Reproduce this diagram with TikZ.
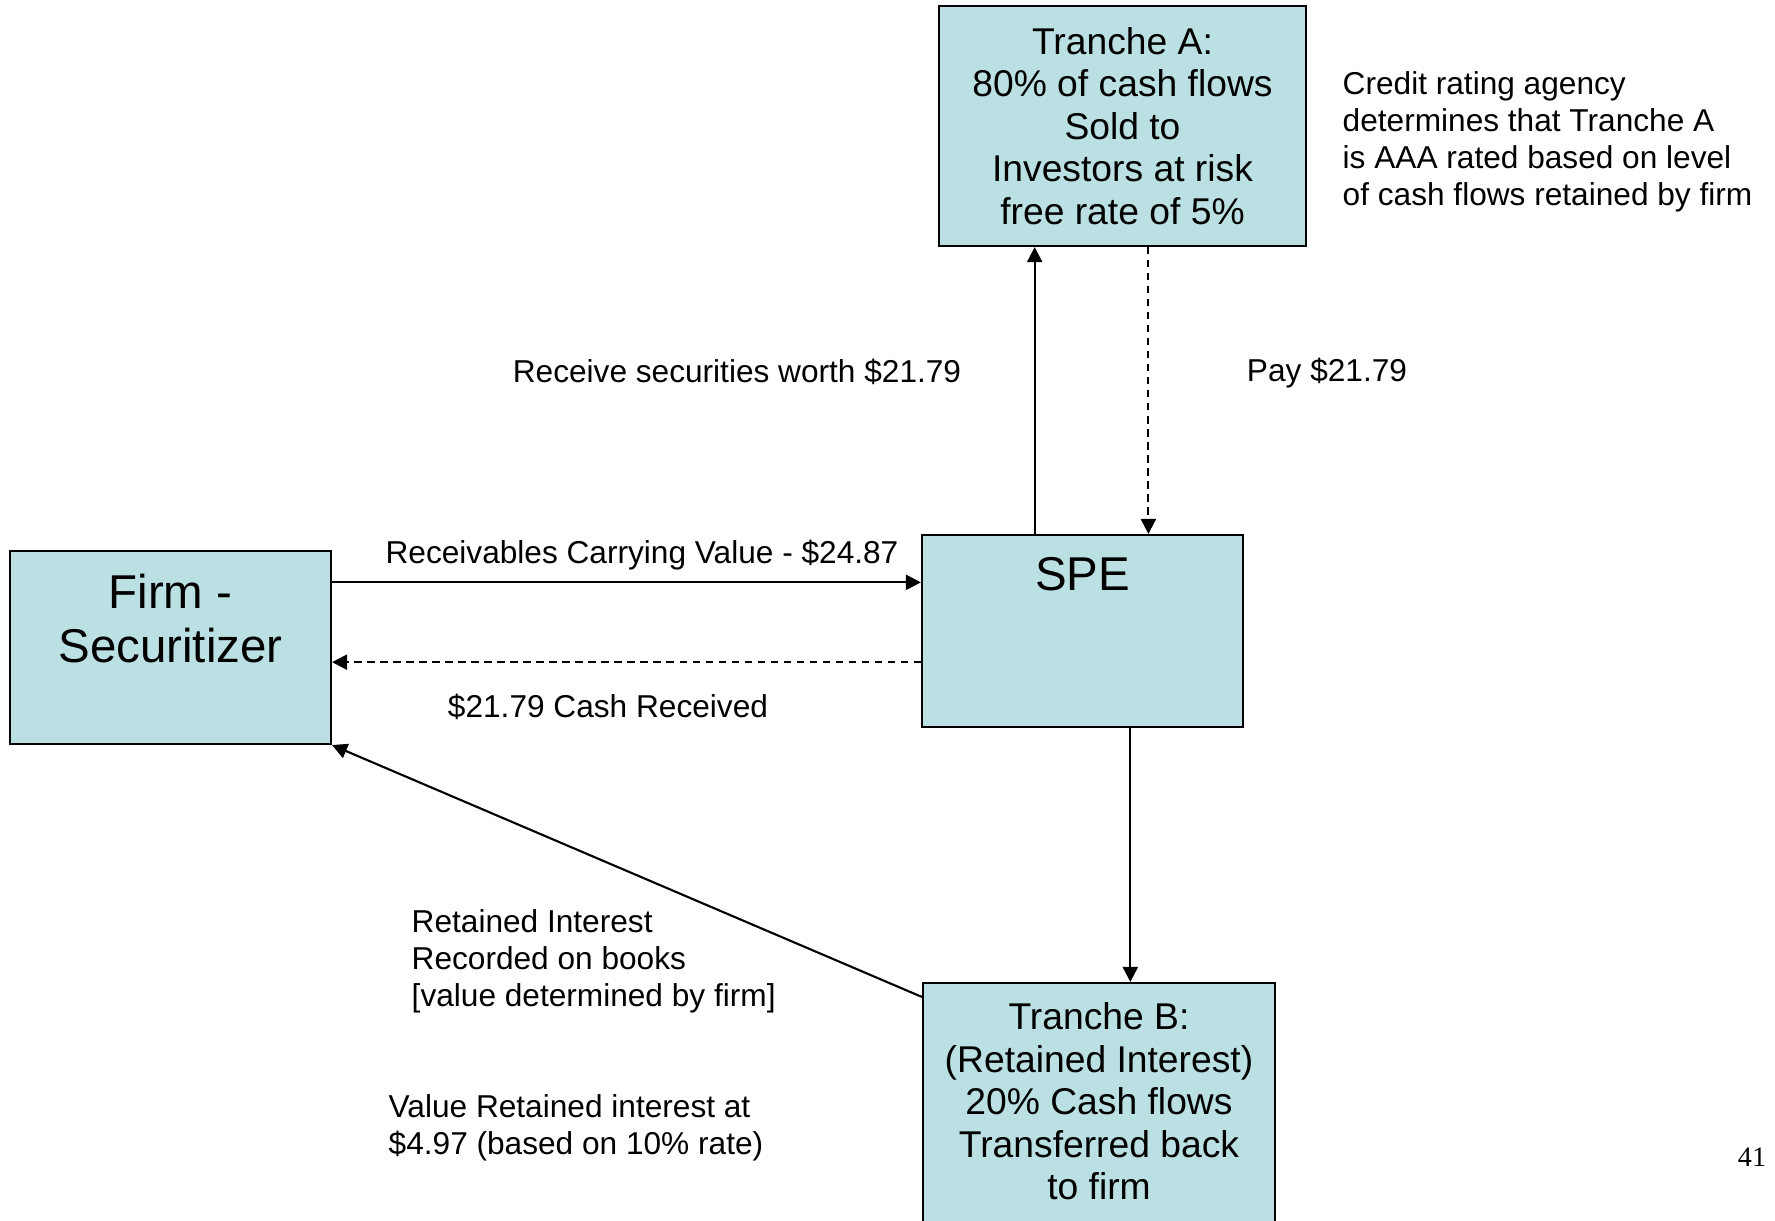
\documentclass[tikz,border=0pt]{standalone}
\usepackage{fontspec}
\setmainfont{Liberation Sans}
\newfontfamily\pagefont{Liberation Serif}
\usetikzlibrary{positioning,calc,arrows.meta}
\definecolor{boxblue}{RGB}{187,224,227}

\begin{document}
\begin{tikzpicture}[
	box/.style={draw,fill=boxblue,line width=0.6pt,inner sep=0pt},
	big/.style={font=\fontsize{13.5}{15.4}\selectfont,align=center,inner sep=0pt},
	mid/.style={font=\fontsize{10.6}{12.1}\selectfont,align=center,inner sep=0pt},
	small/.style={font=\fontsize{9}{10.5}\selectfont,inner sep=0pt},
	flow/.style={line width=0.6pt,-{Triangle[length=4.3pt,width=4.3pt]}},
	back/.style={flow,dash pattern=on 2.1pt off 1.6pt}]
			\clip (0,0) rectangle (17.75,-12.2);
			% boxes
			\node[box,minimum width=3.21cm,minimum height=1.93cm] (firm) at (1.705,-6.475) {};
			\node[box,minimum width=3.21cm,minimum height=1.92cm] (spe) at (10.825,-6.31) {};
			\node[box,minimum width=3.67cm,minimum height=2.40cm,mid] (trA) at (11.225,-1.26) {Tranche A:\\80\% of cash flows\\Sold to\\Investors at risk\\free rate of 5\%};
			\node[box,minimum width=3.52cm,minimum height=2.6cm] (trB) at (10.99,-11.13) {};
			\node[big,below=0.23cm of firm.north] (firmtxt) {Firm -\\Securitizer};
			\node[big,below=0.23cm of spe.north] (spetxt) {SPE};
			\node[mid,below=0.20cm of trB.north] (trBtxt) {Tranche B:\\(Retained Interest)\\20\% Cash flows\\Transferred back\\to firm};
			
			% where the arrows leave and meet the boxes
			\coordinate (upA) at ($(spe.north west)!0.352!(spe.north east)$);
			\coordinate (downA) at ($(spe.north west)!0.704!(spe.north east)$);
			\coordinate (downB) at ($(spe.south west)!0.648!(spe.south east)$);
			\coordinate (toSPE) at ($(firm.north east)!0.166!(firm.south east)$);
			\coordinate (toFirm) at ($(firm.north east)!0.575!(firm.south east)$);
			\coordinate (fromB) at ($(trB.north west)+(0,-0.15)$);
			
			\begin{scope}
			\draw[flow] (toSPE) -- (toSPE -| spe.west);
			\draw[flow] (upA) -- (upA |- trA.south);
			\draw[flow] (downB) -- (downB |- trB.north);
			\draw[flow] (fromB) -- (firm.south east);
			\end{scope}
			\begin{scope}
			\draw[back] (toFirm -| spe.west) -- (toFirm);
			\draw[back] (downA |- trA.south) -- (downA);
			\end{scope}
			
			% labels
			\node[small] (recv) at (6.42,-5.55) {Receivables Carrying Value - \$24.87};
			\node[small] (cash) at (6.08,-7.07) {\$21.79 Cash Received};
			\node[small] (secs) at (7.37,-3.72) {Receive securities worth \$21.79};
			\node[small] (pay) at (13.27,-3.73) {Pay \$21.79};
			\node[small,anchor=west,align=left] (agency) at (13.42,-1.415) {Credit rating agency\\determines that Tranche A\\is AAA rated based on level\\of cash flows retained by firm};
			\node[small,anchor=west,align=left] (retained) at (4.11,-9.615) {Retained Interest\\Recorded on books\\{[}value determined by firm{]}};
			\node[small,anchor=west,align=left] (valued) at (3.88,-11.28) {Value Retained interest at\\\$4.97 (based on 10\% rate)};
			\node[font=\pagefont\fontsize{8}{9.6}\selectfont,inner sep=0pt] (pagenum) at (17.52,-11.57) {41};
\end{tikzpicture}
\end{document}
